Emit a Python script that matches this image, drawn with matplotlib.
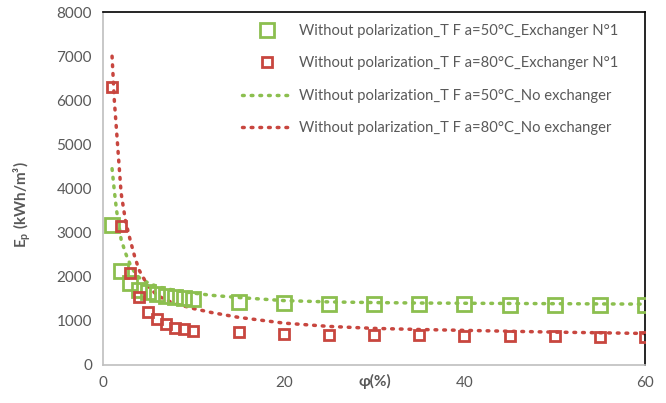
import matplotlib.pyplot as plt
import numpy as np

plt.rcParams["font.family"] = ["Lato", "DejaVu Sans"]

# exchanger N°1 measurements
phi_exch = [1, 2, 3, 4, 5, 6, 7, 8, 9, 10, 15, 20, 25, 30, 35, 40, 45, 50, 55, 60]
ep_50_exch = [3170, 2130, 1870, 1700, 1650, 1600, 1570, 1540, 1510, 1490,
              1435, 1400, 1390, 1385, 1380, 1375, 1370, 1365, 1360, 1355]
ep_80_exch = [6300, 3140, 2080, 1540, 1210, 1035, 930, 845, 810, 780,
              740, 700, 680, 675, 670, 665, 660, 650, 645, 640]

# no exchanger curves
phi_noex = [1, 1.25, 1.5, 2, 2.5, 3, 3.5, 4, 5, 6, 7, 8, 10, 12, 15, 20, 25, 30, 35, 40, 45, 50, 55, 60]
ep_50_noex = [4450, 3950, 3500, 2850, 2530, 2280, 2100, 1980, 1860, 1780, 1730, 1690, 1630,
              1580, 1530, 1460, 1430, 1415, 1405, 1400, 1395, 1390, 1385, 1380]
ep_80_noex = [7000, 6000, 5300, 3900, 3250, 2840, 2460, 2150, 1780, 1580, 1470, 1390, 1280,
              1190, 1080, 950, 875, 830, 805, 785, 765, 745, 730, 715]

green = "#8cbf4f"
red = "#c8463f"
grey = "#595959"

fig = plt.figure(figsize=(6.66, 4.03), dpi=100)
ax = fig.add_axes([0.1547, 0.0943, 0.8138, 0.8757])

dots = (0, (0.5, 2.0))
ax.plot(phi_exch, ep_50_exch, ls="none", marker="s", ms=10, mfc="none", mec=green, mew=2.0,
        label="Without polarization_T F a=50°C_Exchanger N°1", zorder=3)
ax.plot(phi_exch, ep_80_exch, ls="none", marker="s", ms=7.5, mfc="none", mec=red, mew=2.0,
        label="Without polarization_T F a=80°C_Exchanger N°1", zorder=3)
ax.plot(phi_noex, ep_50_noex, color=green, lw=2.5, ls=dots, dash_capstyle="round",
        label="Without polarization_T F a=50°C_No exchanger")
ax.plot(phi_noex, ep_80_noex, color=red, lw=2.5, ls=dots, dash_capstyle="round",
        label="Without polarization_T F a=80°C_No exchanger")

ax.set_xlim(0, 60)
ax.set_ylim(0, 8000)
ax.set_xticks([0, 20, 40, 60])
ax.set_yticks(np.arange(0, 8001, 1000))
ax.tick_params(length=0, labelsize=11, colors=grey, pad=8)

for side in ["left", "bottom"]:
    ax.spines[side].set_color("#bfbfbf")
    ax.spines[side].set_linewidth(1.2)
for side in ["top", "right"]:
    ax.spines[side].set_color("black")
    ax.spines[side].set_linewidth(1.2)

ax.text(375 / 666, 1 - 381 / 403, "φ(%)", transform=fig.transFigure, ha="center", va="center",
        fontsize=11, fontweight="bold", color=grey)
fig.text(22 / 666, 1 - 205 / 403, "E$_\\mathregular{p}$ (kWh/m³)", rotation=90, ha="center", va="center",
         fontsize=11, fontweight="bold", color=grey)

ax.legend(loc="upper left", bbox_to_anchor=(236 / 666, 1 - 18 / 403), bbox_transform=fig.transFigure,
          frameon=False, fontsize=10.6, labelcolor=grey, handlelength=3.4, labelspacing=1.25,
          handletextpad=0.5, borderaxespad=0)

fig.savefig("out.png", dpi=100)
